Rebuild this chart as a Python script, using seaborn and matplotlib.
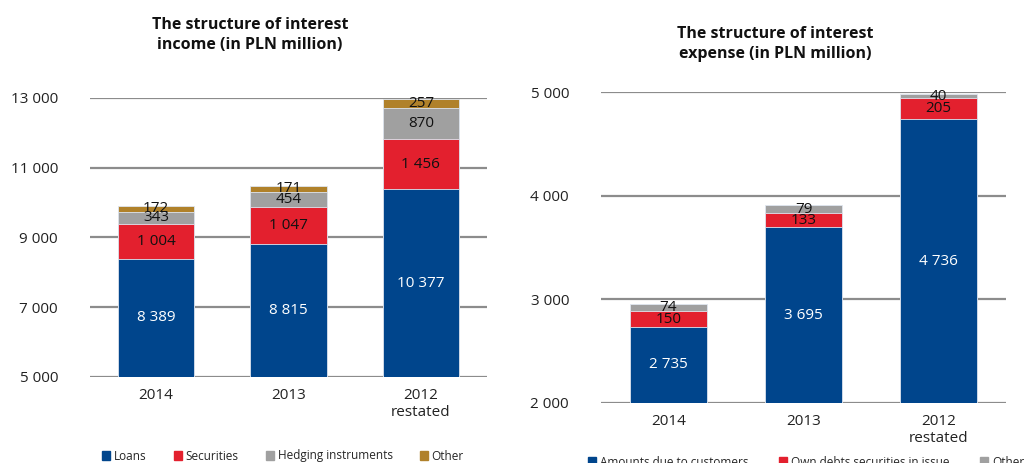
import matplotlib
matplotlib.use("Agg")
import matplotlib.pyplot as plt
import seaborn as sns
import pandas as pd
import numpy as np
from matplotlib.patches import Patch

sns.set_theme(style="white")
plt.rcParams['font.family'] = ['Open Sans', 'DejaVu Sans']

# ---------------- data ----------------
years = ["2014", "2013", "2012\nrestated"]

inc_series = ["Loans", "Securities", "Hedging instruments", "Other"]
inc_loans = [8389, 8815, 10377]
inc_securities = [1004, 1047, 1456]
inc_hedging = [343, 454, 870]
inc_other = [172, 171, 257]

exp_series = ["Amounts due to customers", "Own debts securities in issue", "Other"]
exp_customers = [2735, 3695, 4736]
exp_debts = [150, 133, 205]
exp_other = [74, 79, 40]

inc_ticks = [5000, 7000, 9000, 11000, 13000]
exp_ticks = [2000, 3000, 4000, 5000]

c_blue = "#00458C"
c_red = "#E3202E"
c_gray = "#A0A0A0"
c_gold = "#B0812A"

W, H = 1026, 463
fig = plt.figure(figsize=(W / 100, H / 100), dpi=100)


def fmt(v):
    return f"{v:,}".replace(",", " ")


def stacked(ax, layers, colors, ylim, ticks, width):
    cum = np.cumsum(np.array(layers), axis=0)
    # draw tallest first so lower layers overlay
    for i in range(len(layers) - 1, -1, -1):
        df = pd.DataFrame({"year": years, "val": cum[i]})
        sns.barplot(data=df, x="year", y="val", color=colors[i], ax=ax,
                    width=width, saturation=1, edgecolor="#dfe6f0", linewidth=0.6,
                    order=years)
    ax.set_ylim(*ylim)
    ax.set_yticks(ticks)
    ax.set_yticklabels([fmt(t) for t in ticks], fontsize=11, color="#222222")
    ax.set_xlabel("")
    ax.set_ylabel("")
    ax.tick_params(axis="x", labelsize=11, colors="#222222", length=0, pad=8)
    ax.tick_params(axis="y", length=0, pad=23)
    for s in ax.spines.values():
        s.set_visible(False)
    for t in ticks:
        ax.axhline(t, color="#8c8c8c", lw=1.6, zorder=0.5)
    ax.set_axisbelow(True)
    # labels
    for j in range(len(years)):
        for i in range(len(layers)):
            top = cum[i][j]
            bot = cum[i - 1][j] if i > 0 else ylim[0]
            bot = max(bot, ylim[0])
            y = (top + bot) / 2
            col = "white" if i == 0 else "#111111"
            ax.text(j, y, fmt(layers[i][j]), ha="center", va="center",
                    fontsize=11, color=col, zorder=5)


# left chart
ax1 = fig.add_axes([90 / W, 1 - 377 / H, 397 / W, (377 - 98) / H])
stacked(ax1, [inc_loans, inc_securities, inc_hedging, inc_other],
        [c_blue, c_red, c_gray, c_gold], (5000, 13000), inc_ticks, 0.575)

# right chart
ax2 = fig.add_axes([601 / W, 1 - 403 / H, 405 / W, (403 - 92) / H])
stacked(ax2, [exp_customers, exp_debts, exp_other],
        [c_blue, c_red, c_gray], (2000, 5000), exp_ticks, 0.57)

# titles
fig.text(250 / W, 1 - 35 / H, "The structure of interest\nincome (in PLN million)",
         ha="center", va="center", fontsize=11.5, fontweight="bold",
         linespacing=1.3, color="#111111")
fig.text(775 / W, 1 - 44 / H, "The structure of interest\nexpense (in PLN million)",
         ha="center", va="center", fontsize=11.5, fontweight="bold",
         linespacing=1.3, color="#111111")

# legends
h1 = [Patch(color=c, label=l) for c, l in zip([c_blue, c_red, c_gray, c_gold], inc_series)]
fig.legend(handles=h1, loc="center", bbox_to_anchor=(283 / W, 1 - 456 / H),
           ncol=4, frameon=False, fontsize=8.5, handlelength=0.7, handleheight=0.7,
           handletextpad=0.3, columnspacing=2.3)
h2 = [Patch(color=c, label=l) for c, l in zip([c_blue, c_red, c_gray], exp_series)]
fig.legend(handles=h2, loc="center", bbox_to_anchor=(806 / W, 1 - 462 / H),
           ncol=3, frameon=False, fontsize=8.5, handlelength=0.7, handleheight=0.7,
           handletextpad=0.3, columnspacing=2.6)

fig.savefig("out.png", dpi=100)
